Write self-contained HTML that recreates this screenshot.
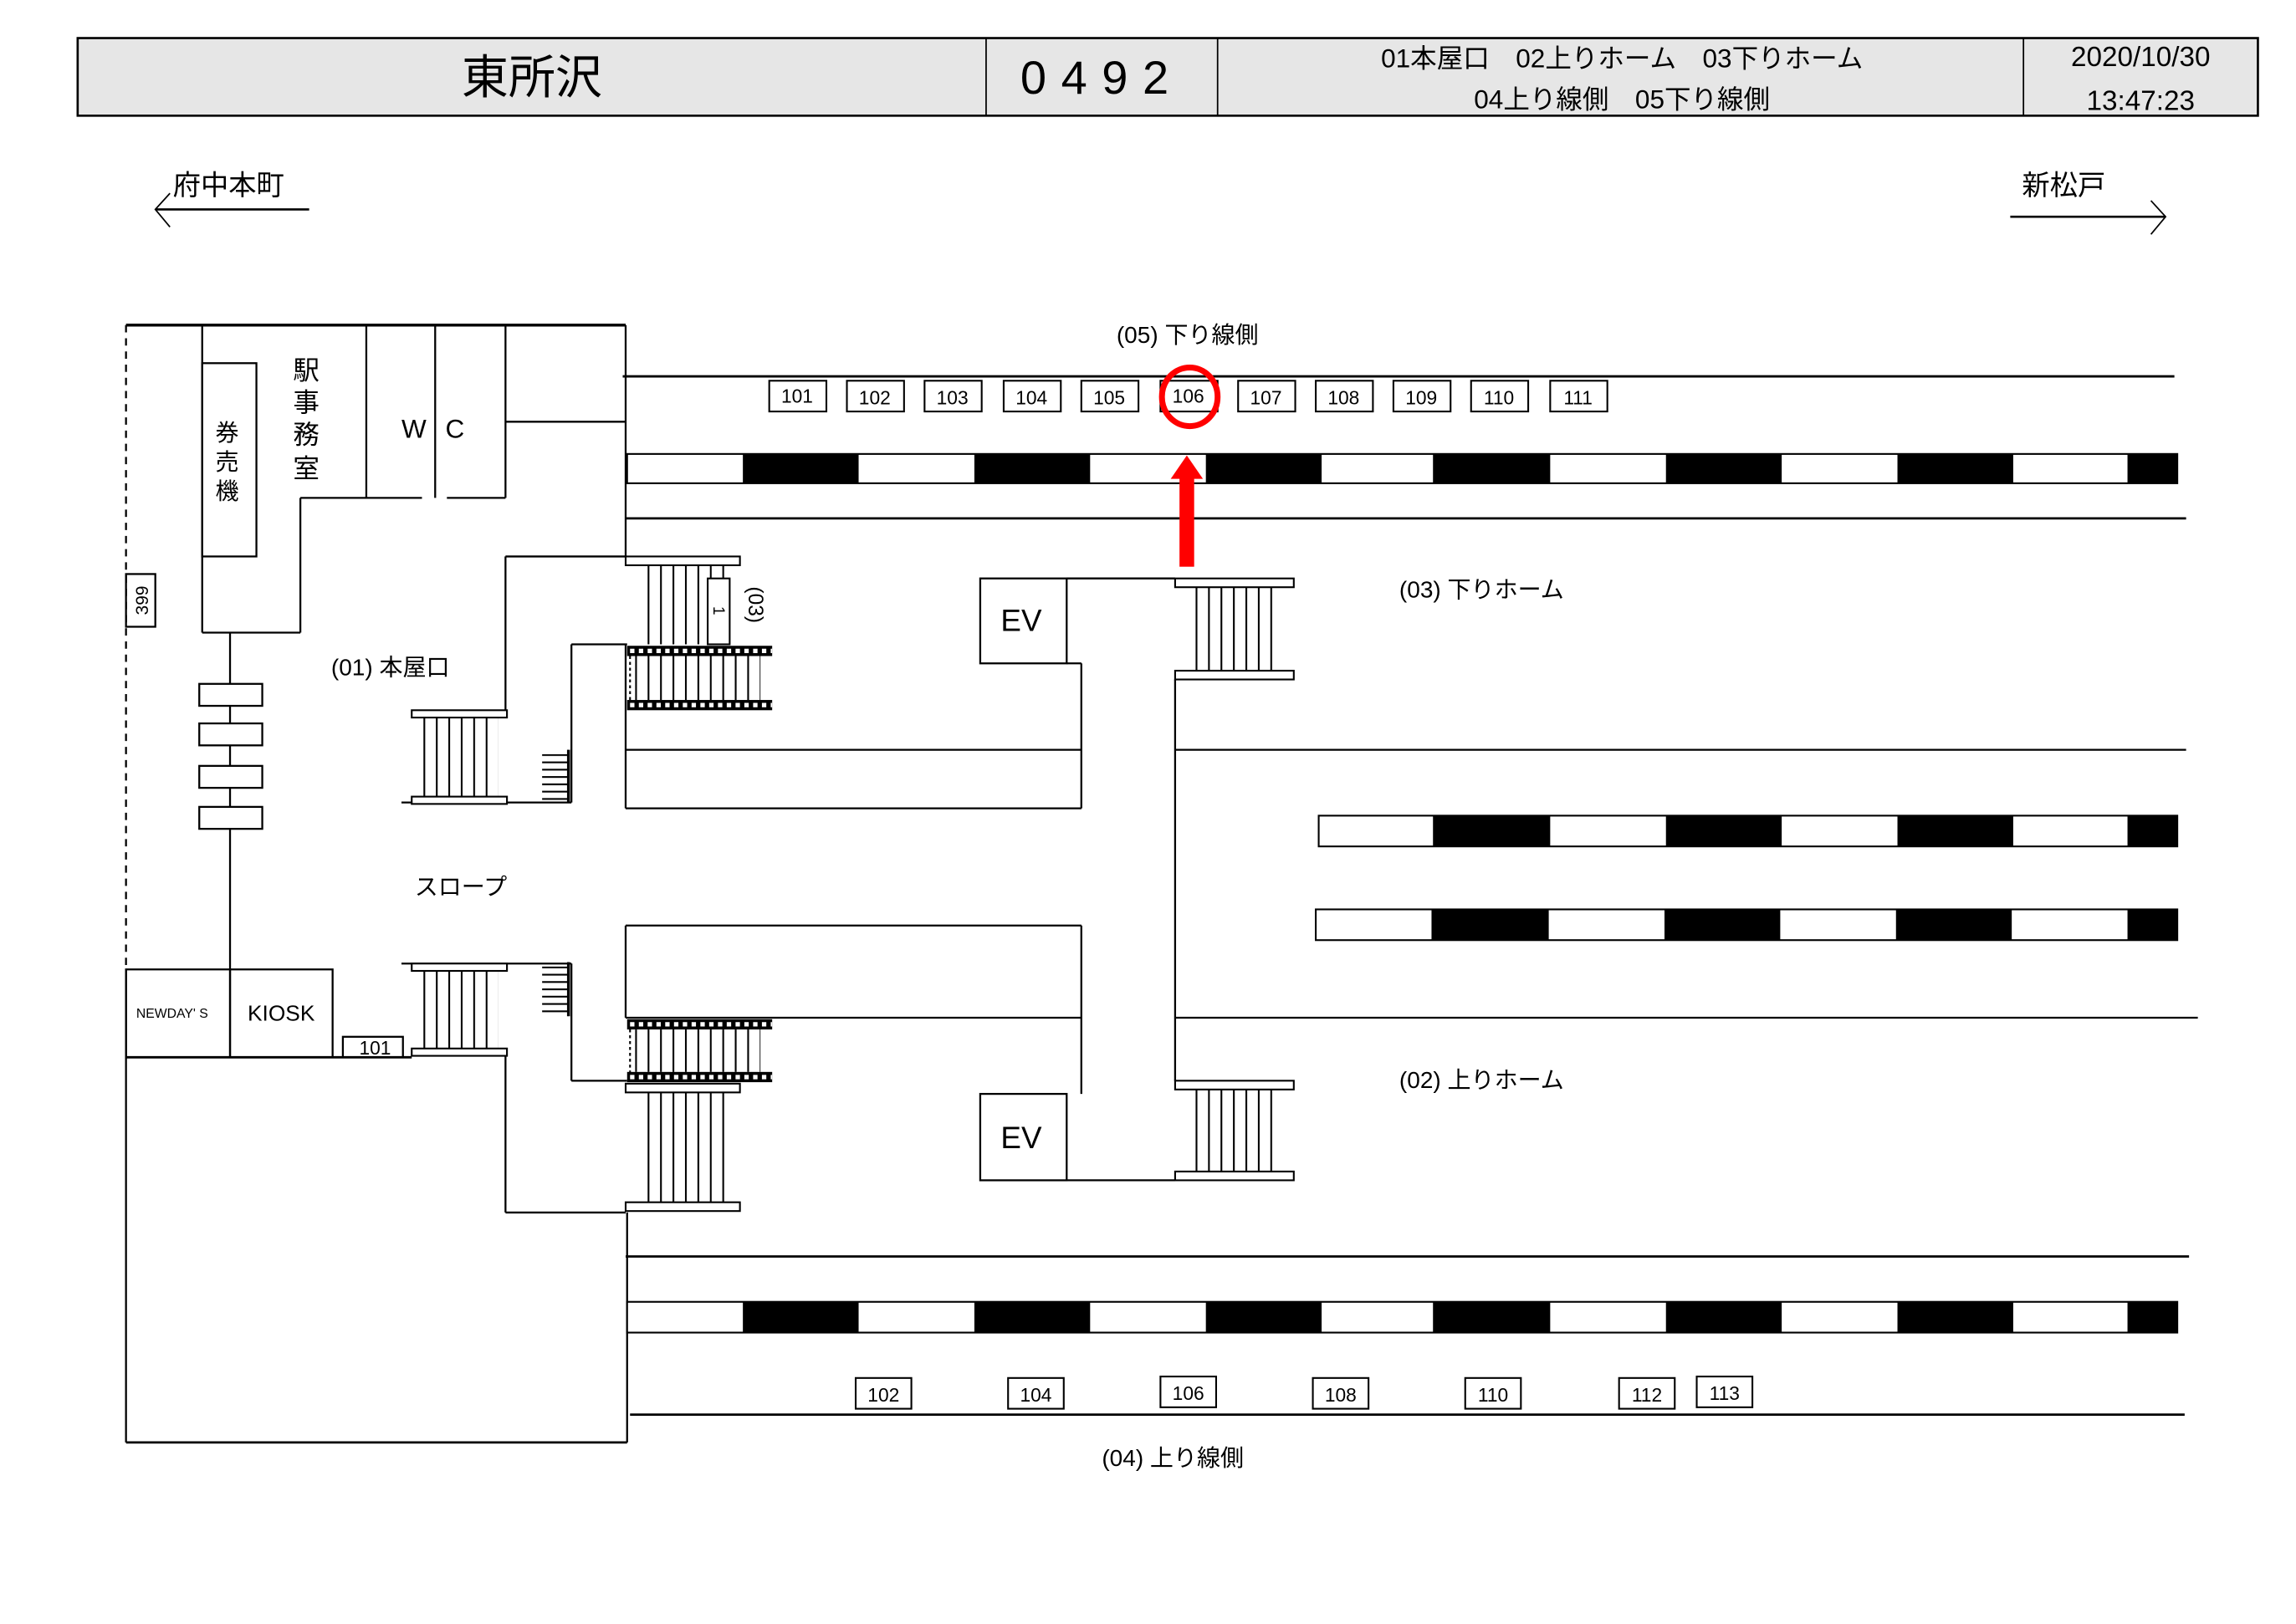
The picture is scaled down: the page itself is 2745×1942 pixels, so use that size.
<!DOCTYPE html>
<html><head><meta charset="utf-8"><style>
html,body{margin:0;padding:0;background:#fff}
svg{display:block}
text{font-family:"Liberation Sans","Noto Sans CJK JP",sans-serif;fill:#000}
</style></head><body>
<svg width="2745" height="1942" viewBox="0 0 1567 1109" preserveAspectRatio="none" xmlns="http://www.w3.org/2000/svg">
<defs>
<pattern id="v" width="8.5" height="10" patternUnits="userSpaceOnUse"><rect x="0" y="0" width="1.2" height="10" fill="#000"/></pattern>
<pattern id="h" width="10" height="5" patternUnits="userSpaceOnUse"><rect x="0" y="0" width="10" height="1.2" fill="#000"/></pattern>
</defs>
<rect width="1567" height="1109" fill="#fff"/>
<!-- header -->
<rect x="53" y="26" width="1488" height="53" fill="#e6e6e6" stroke="#000" stroke-width="1.5"/>
<line x1="673" y1="26" x2="673" y2="79" stroke="#000"/>
<line x1="831" y1="26" x2="831" y2="79" stroke="#000"/>
<line x1="1381" y1="26" x2="1381" y2="79" stroke="#000"/>
<text x="363" y="64" font-size="32" text-anchor="middle">東所沢</text>
<text x="752" y="64" font-size="32" text-anchor="middle" letter-spacing="10">0492</text>
<text x="1107" y="46" font-size="18" text-anchor="middle">01本屋口　02上りホーム　03下りホーム</text>
<text x="1107" y="74" font-size="18" text-anchor="middle">04上り線側　05下り線側</text>
<text x="1461" y="45" font-size="19" text-anchor="middle">2020/10/30</text>
<text x="1461" y="75" font-size="19" text-anchor="middle">13:47:23</text>
<!-- direction arrows -->
<text x="118" y="133" font-size="19">府中本町</text>
<polyline points="116,132 106,143 116,155" fill="none" stroke="#000"/>
<line x1="106" y1="143" x2="211" y2="143" stroke="#000" stroke-width="1.5"/>
<text x="1380" y="133" font-size="19">新松戸</text>
<line x1="1372" y1="148" x2="1478" y2="148" stroke="#000" stroke-width="1.5"/>
<polyline points="1468,137 1478,148 1468,160" fill="none" stroke="#000"/>

<g stroke="#000" stroke-width="1.3" fill="none">
<line x1="86" y1="222" x2="427" y2="222" stroke-width="2"/>
<line x1="86" y1="222" x2="86" y2="662" stroke-dasharray="5,4"/>
<line x1="138" y1="222" x2="138" y2="432"/>
<rect x="138" y="248" width="37" height="132" fill="#fff"/>
<line x1="138" y1="432" x2="205" y2="432"/>
<line x1="205" y1="340" x2="205" y2="432"/>
<line x1="205" y1="340" x2="288" y2="340"/>
<line x1="250" y1="222" x2="250" y2="340"/>
<line x1="297" y1="222" x2="297" y2="340"/>
<line x1="345" y1="222" x2="345" y2="340"/>
<line x1="305" y1="340" x2="345" y2="340"/>
<line x1="345" y1="288" x2="427" y2="288"/>
<line x1="427" y1="222" x2="427" y2="380"/>
<line x1="427" y1="440" x2="427" y2="552"/>
<line x1="157" y1="432" x2="157" y2="662"/>
<rect x="136" y="467" width="43" height="15" fill="#fff"/>
<rect x="136" y="494" width="43" height="15" fill="#fff"/>
<rect x="136" y="523" width="43" height="15" fill="#fff"/>
<rect x="136" y="551" width="43" height="15" fill="#fff"/>
<rect x="86" y="392" width="20" height="36"/>
<line x1="345" y1="380" x2="427" y2="380"/>
<line x1="345" y1="380" x2="345" y2="485"/>
<line x1="390" y1="440" x2="428" y2="440"/>
<line x1="390" y1="440" x2="390" y2="548"/>
<line x1="274" y1="548" x2="390" y2="548"/>
<line x1="427" y1="512" x2="738" y2="512"/>
<line x1="427" y1="552" x2="738" y2="552"/>
<line x1="738" y1="453" x2="738" y2="552"/>
<rect x="669" y="395" width="59" height="58"/>
<line x1="728" y1="395" x2="802" y2="395"/>
<line x1="728" y1="453" x2="738" y2="453"/>
<line x1="802" y1="464" x2="802" y2="738"/>
<line x1="802" y1="512" x2="1492" y2="512"/>
<line x1="425" y1="257" x2="1484" y2="257" stroke-width="1.6"/>
<line x1="427" y1="354" x2="1492" y2="354" stroke-width="1.6"/>
<line x1="802" y1="695" x2="1500" y2="695"/>
<line x1="427" y1="858" x2="1494" y2="858" stroke-width="1.6"/>
<line x1="430" y1="966" x2="1491" y2="966" stroke-width="1.6"/>
<line x1="427" y1="632" x2="738" y2="632"/>
<line x1="427" y1="632" x2="427" y2="695"/>
<line x1="427" y1="695" x2="738" y2="695"/>
<line x1="738" y1="632" x2="738" y2="747"/>
<rect x="669" y="747" width="59" height="59"/>
<line x1="728" y1="806" x2="802" y2="806"/>
<line x1="390" y1="738" x2="428" y2="738"/>
<line x1="390" y1="658" x2="390" y2="738"/>
<line x1="274" y1="658" x2="390" y2="658"/>
<line x1="345" y1="721" x2="345" y2="828"/>
<line x1="345" y1="828" x2="427" y2="828"/>
<line x1="86" y1="662" x2="86" y2="985"/>
<line x1="86" y1="985" x2="428" y2="985" stroke-width="1.6"/>
<line x1="428" y1="828" x2="428" y2="985"/>
<line x1="86" y1="722" x2="281" y2="722" stroke-width="1.6"/>
<rect x="86" y="662" width="71" height="60"/>
<rect x="157" y="662" width="70" height="60"/>
<rect x="234" y="708" width="41" height="14"/>
</g>

<g stroke="#000" stroke-width="1.2">
<rect x="435" y="386" width="64" height="54" fill="url(#v)" stroke="none"/>
<rect x="427" y="380" width="78" height="6" fill="#fff"/>
<rect x="483" y="395" width="15" height="45" fill="#fff"/>
<rect x="288" y="490" width="52" height="55" fill="url(#v)" stroke="none"/>
<rect x="281" y="485" width="65" height="5" fill="#fff"/>
<rect x="281" y="544" width="65" height="5" fill="#fff"/>
<rect x="370" y="515" width="18" height="33" fill="url(#h)" stroke="none"/>
<line x1="388" y1="512" x2="388" y2="548" stroke-width="2"/>
<rect x="810" y="401" width="64" height="57" fill="url(#v)" stroke="none"/>
<rect x="802" y="395" width="81" height="6" fill="#fff"/>
<rect x="802" y="458" width="81" height="6" fill="#fff"/>
<rect x="288" y="663" width="52" height="53" fill="url(#v)" stroke="none"/>
<rect x="281" y="658" width="65" height="5" fill="#fff"/>
<rect x="281" y="716" width="65" height="5" fill="#fff"/>
<rect x="370" y="660" width="18" height="33" fill="url(#h)" stroke="none"/>
<line x1="388" y1="657" x2="388" y2="694" stroke-width="2"/>
<rect x="435" y="746" width="64" height="75" fill="url(#v)" stroke="none"/>
<rect x="427" y="740" width="78" height="6" fill="#fff"/>
<rect x="427" y="821" width="78" height="6" fill="#fff"/>
<rect x="810" y="744" width="64" height="56" fill="url(#v)" stroke="none"/>
<rect x="802" y="738" width="81" height="6" fill="#fff"/>
<rect x="802" y="800" width="81" height="6" fill="#fff"/>
<rect x="433" y="448" width="86" height="30" fill="url(#v)" stroke="none"/>
<rect x="428" y="441" width="99" height="7" fill="#000" stroke="none"/>
<line x1="430" y1="444.5" x2="527" y2="444.5" stroke="#fff" stroke-width="3" stroke-dasharray="3,3"/>
<rect x="428" y="478" width="99" height="7" fill="#000" stroke="none"/>
<line x1="430" y1="481.5" x2="527" y2="481.5" stroke="#fff" stroke-width="3" stroke-dasharray="3,3"/>
<line x1="430" y1="448" x2="430" y2="478" stroke-dasharray="2,2"/>
<rect x="433" y="703" width="86" height="29" fill="url(#v)" stroke="none"/>
<rect x="428" y="696" width="99" height="7" fill="#000" stroke="none"/>
<line x1="430" y1="699.5" x2="527" y2="699.5" stroke="#fff" stroke-width="3" stroke-dasharray="3,3"/>
<rect x="428" y="732" width="99" height="7" fill="#000" stroke="none"/>
<line x1="430" y1="735.5" x2="527" y2="735.5" stroke="#fff" stroke-width="3" stroke-dasharray="3,3"/>
<line x1="430" y1="703" x2="430" y2="732" stroke-dasharray="2,2"/>
</g>

<g stroke="#000" stroke-width="1.2">
<rect x="428" y="310" width="1058" height="20" fill="#fff"/>
<rect x="428" y="889" width="1058" height="21" fill="#fff"/>
<rect x="900" y="557" width="586" height="21" fill="#fff"/>
<rect x="898" y="621" width="588" height="21" fill="#fff"/>
</g>
<g fill="#000">
<rect x="507" y="310" width="79" height="20"/><rect x="665" y="310" width="79" height="20"/><rect x="823" y="310" width="79" height="20"/><rect x="978" y="310" width="80" height="20"/><rect x="1137" y="310" width="79" height="20"/><rect x="1295" y="310" width="79" height="20"/><rect x="1452" y="310" width="34" height="20"/>
<rect x="507" y="889" width="79" height="21"/><rect x="665" y="889" width="79" height="21"/><rect x="823" y="889" width="79" height="21"/><rect x="978" y="889" width="80" height="21"/><rect x="1137" y="889" width="79" height="21"/><rect x="1295" y="889" width="79" height="21"/><rect x="1452" y="889" width="34" height="21"/>
<rect x="978" y="557" width="80" height="21"/><rect x="1137" y="557" width="79" height="21"/><rect x="1295" y="557" width="79" height="21"/><rect x="1452" y="557" width="34" height="21"/>
<rect x="977" y="621" width="80" height="21"/><rect x="1136" y="621" width="79" height="21"/><rect x="1294" y="621" width="79" height="21"/><rect x="1452" y="621" width="34" height="21"/>
</g>

<g stroke="#000" stroke-width="1.2" fill="#fff">
<rect x="525" y="260" width="39" height="21"/><rect x="578" y="260" width="39" height="21"/><rect x="631" y="260" width="39" height="21"/><rect x="685" y="260" width="39" height="21"/><rect x="738" y="260" width="39" height="21"/><rect x="792" y="260" width="39" height="21"/><rect x="845" y="260" width="39" height="21"/><rect x="898" y="260" width="39" height="21"/><rect x="951" y="260" width="39" height="21"/><rect x="1004" y="260" width="39" height="21"/><rect x="1058" y="260" width="39" height="21"/>
<rect x="584" y="941" width="38" height="21"/><rect x="688" y="941" width="38" height="21"/><rect x="792" y="940" width="38" height="21"/><rect x="896" y="941" width="38" height="21"/><rect x="1000" y="941" width="38" height="21"/><rect x="1105" y="941" width="38" height="21"/><rect x="1158" y="940" width="38" height="21"/>
</g>
<g font-size="13" text-anchor="middle">
<text x="544" y="275">101</text><text x="597" y="276">102</text><text x="650" y="276">103</text><text x="704" y="276">104</text><text x="757" y="276">105</text><text x="811" y="275">106</text><text x="864" y="276">107</text><text x="917" y="276">108</text><text x="970" y="276">109</text><text x="1023" y="276">110</text><text x="1077" y="276">111</text>
<text x="603" y="957">102</text><text x="707" y="957">104</text><text x="811" y="956">106</text><text x="915" y="957">108</text><text x="1019" y="957">110</text><text x="1124" y="957">112</text><text x="1177" y="956">113</text>
<text x="256" y="720">101</text>
</g>

<ellipse cx="812" cy="271" rx="19" ry="20" fill="none" stroke="#f00" stroke-width="4"/>
<rect x="805" y="326" width="10" height="61" fill="#f00"/>
<polygon points="810,311 799,327 821,327" fill="#f00"/>

<g font-size="16">
<text x="762" y="234">(05) 下り線側</text>
<text x="955" y="408">(03) 下りホーム</text>
<text x="955" y="743">(02) 上りホーム</text>
<text x="752" y="1001">(04) 上り線側</text>
<text x="226" y="461">(01) 本屋口</text>
<text x="283" y="611">スロープ</text>
</g>
<g font-size="18">
<text x="200" y="259">駅</text><text x="200" y="281">事</text><text x="200" y="303">務</text><text x="200" y="326">室</text>
<text x="147" y="301" font-size="16">券</text><text x="147" y="321" font-size="16">売</text><text x="147" y="341" font-size="16">機</text>
<text x="274" y="299">W</text><text x="304" y="299">C</text>
<text x="683" y="431" font-size="21">EV</text>
<text x="683" y="784" font-size="21">EV</text>
<text x="169" y="697" font-size="15">KIOSK</text>
<text x="93" y="695" font-size="9">NEWDAY' S</text>
</g>
<text x="0" y="0" font-size="12" transform="translate(101,410) rotate(-90)" text-anchor="middle">399</text>
<text x="0" y="0" font-size="14" transform="translate(511,413) rotate(90)" text-anchor="middle">(03)</text>
<text x="0" y="0" font-size="11" transform="translate(487,417) rotate(90)" text-anchor="middle">1</text>
</svg>
</body></html>
